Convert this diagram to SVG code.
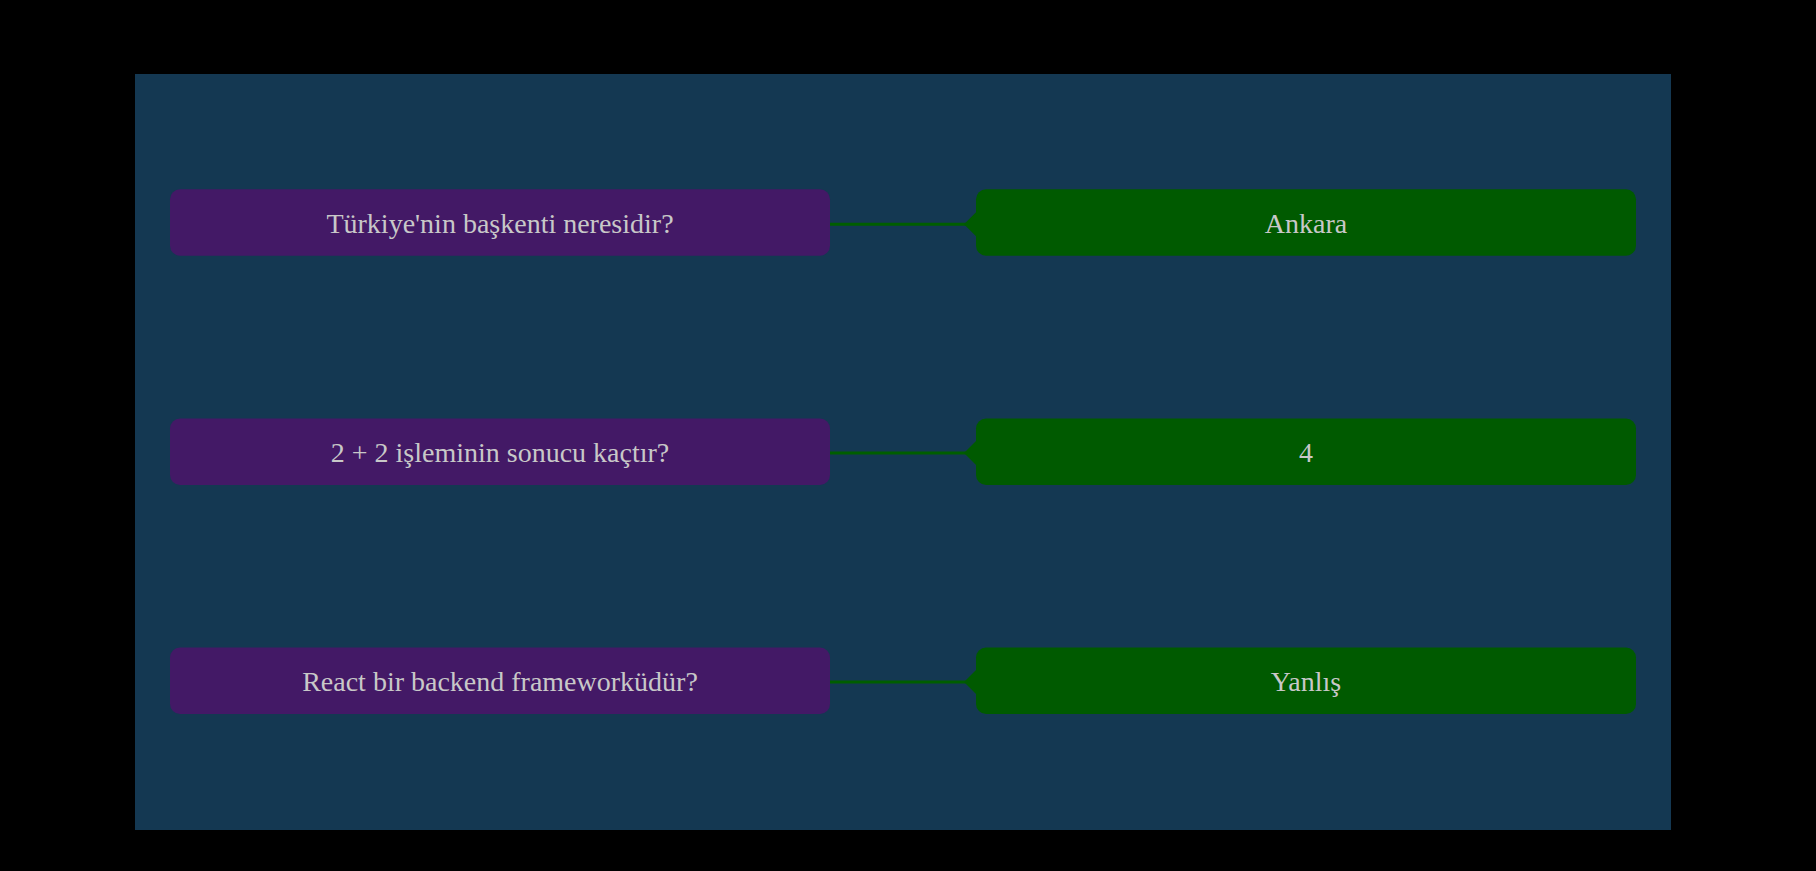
<svg xmlns="http://www.w3.org/2000/svg" width="1816" height="871" viewBox="0 0 1816 871">
<style>
.q{fill:#431966}
.a{fill:#005a00}
.t{font-family:"Liberation Serif","Times New Roman",serif;font-size:28px;fill:#c8c8c8;text-anchor:middle}
.ln{stroke:#005e00;stroke-width:3;fill:none}
.wd{fill:#005a00}
</style>
<rect x="0" y="0" width="1816" height="871" fill="#000000"/>
<rect x="135" y="74" width="1536" height="756" fill="#143852"/>
<g id="connectors">
<line class="ln" x1="828" y1="224.3" x2="966" y2="224.3"/>
<polygon class="wd" points="964,224.3 980,208.3 980,240.3"/>
<line class="ln" x1="828" y1="453" x2="966" y2="453"/>
<polygon class="wd" points="964,453 980,437 980,469"/>
<line class="ln" x1="828" y1="682" x2="966" y2="682"/>
<polygon class="wd" points="964,682 980,666 980,698"/>
</g>
<g id="q1"><rect class="q" x="170" y="189.3" width="660" height="66.4" rx="10"/><text class="t" x="500" y="232.5">Türkiye'nin başkenti neresidir?</text></g>
<g id="a1"><rect class="a" x="976" y="189.3" width="660" height="66.4" rx="10"/><text class="t" x="1306" y="232.5">Ankara</text></g>
<g id="q2"><rect class="q" x="170" y="418.5" width="660" height="66.4" rx="10"/><text class="t" x="500" y="461.5">2 + 2 işleminin sonucu kaçtır?</text></g>
<g id="a2"><rect class="a" x="976" y="418.5" width="660" height="66.4" rx="10"/><text class="t" x="1306" y="461.5">4</text></g>
<g id="q3"><rect class="q" x="170" y="647.5" width="660" height="66.4" rx="10"/><text class="t" x="500" y="690.5">React bir backend frameworküdür?</text></g>
<g id="a3"><rect class="a" x="976" y="647.5" width="660" height="66.4" rx="10"/><text class="t" x="1306" y="690.5">Yanlış</text></g>
</svg>
